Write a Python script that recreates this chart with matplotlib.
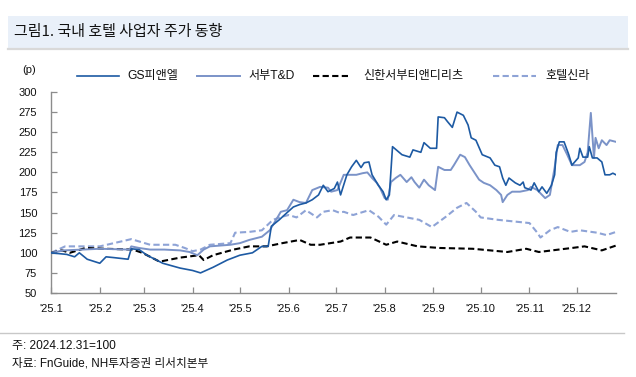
import matplotlib
matplotlib.use('Agg')
import matplotlib.pyplot as plt
from matplotlib.lines import Line2D
from matplotlib.patches import Rectangle

plt.rcParams['font.family'] = ['Liberation Sans', 'Noto Sans CJK KR', 'DejaVu Sans']

# ---- data (day offset from 2025-01-01, index 2024.12.31=100) ----
gs_day = [0, 10, 15, 18, 23, 31, 35, 40, 49, 51, 56, 61, 71, 82, 90, 95, 103, 112, 120, 128,
          134, 138, 140, 145, 150, 154, 158, 162, 166, 170, 173, 176, 180, 182, 184, 188, 191,
          194, 197, 199, 202, 204, 208, 211, 213, 215, 217, 223, 228, 230, 235, 237, 241, 245,
          246, 250, 252, 255, 258, 262, 265, 267, 270, 274, 279, 282, 285, 287, 289, 291, 295,
          298, 300, 301, 305, 307, 310, 312, 315, 318, 320, 321, 323, 326, 329, 331, 335, 336,
          338, 341, 342, 344, 347, 350, 352, 355, 357, 359]
gs_val = [100, 98, 95, 100, 92, 87, 95, 94, 92, 105, 104, 97, 87, 81, 78, 75, 82, 91, 97, 100,
          108, 108, 133, 141, 150, 157, 160, 162, 166, 172, 184, 176, 180, 188, 172, 197, 207,
          215, 206, 212, 213, 197, 184, 176, 166, 172, 232, 222, 219, 228, 225, 237, 230, 230,
          269, 268, 263, 256, 275, 271, 259, 243, 240, 222, 218, 209, 207, 193, 184, 193, 187,
          184, 188, 181, 178, 187, 176, 182, 174, 184, 197, 225, 238, 238, 222, 209, 218, 230,
          219, 219, 232, 218, 218, 213, 197, 197, 199, 197]

sb_day = [0, 8, 20, 31, 50, 51, 56, 63, 72, 82, 88, 93, 97, 101, 114, 120, 126, 134, 139,
          143, 146, 150, 154, 158, 162, 166, 171, 176, 178, 182, 186, 190, 194, 198, 201, 204,
          207, 209, 212, 214, 216, 219, 222, 226, 229, 231, 234, 237, 240, 244, 246, 250, 254,
          256, 260, 263, 266, 270, 272, 275, 279, 283, 286, 287, 290, 293, 298, 303, 305, 309,
          312, 314, 317, 320, 322, 325, 328, 331, 336, 339, 341, 343, 345, 346, 348, 350, 353,
          355, 359]
sb_val = [100, 103, 104, 105, 104, 108, 106, 104, 104, 103, 101, 97, 104, 108, 110, 112, 116,
          120, 128, 141, 151, 153, 166, 163, 162, 178, 182, 181, 176, 178, 197, 197, 197, 199,
          200, 193, 187, 181, 168, 166, 188, 193, 197, 188, 194, 188, 181, 191, 184, 178, 207,
          203, 203, 209, 222, 219, 209, 197, 191, 187, 184, 178, 172, 163, 172, 176, 176, 178,
          182, 178, 172, 168, 172, 206, 234, 234, 222, 209, 209, 213, 225, 274, 218, 243, 230,
          240, 234, 240, 238]

reit_day = [0, 7, 12, 22, 35, 52, 58, 69, 82, 94, 97, 103, 116, 126, 137, 147, 158, 165, 171,
            184, 190, 203, 213, 220, 233, 247, 268, 290, 302, 310, 331, 339, 350, 359]
reit_val = [100, 103, 100, 106, 105, 104, 100, 89, 94, 97, 91, 97, 104, 108, 108, 112, 116,
            110, 110, 114, 119, 119, 110, 114, 108, 106, 105, 101, 105, 101, 106, 108, 103, 109]

shilla_day = [0, 9, 31, 51, 63, 79, 85, 90, 95, 101, 114, 117, 126, 134, 141, 147, 151, 156,
              162, 169, 173, 179, 183, 186, 192, 202, 208, 213, 218, 226, 234, 242, 251, 258,
              264, 270, 273, 284, 294, 304, 309, 311, 317, 322, 330, 336, 347, 353, 359]
shilla_val = [100, 108, 108, 117, 110, 110, 106, 102, 104, 110, 112, 125, 126, 128, 141, 145,
              147, 144, 153, 144, 151, 153, 150, 151, 147, 153, 145, 135, 147, 144, 141, 132,
              145, 156, 162, 151, 144, 141, 139, 137, 125, 119, 128, 132, 126, 128, 125, 122, 126]

series_names = ['GS피앤엘', '서부T&D', '신한서부티앤디리츠', '호텔신라']
month_pos = [0, 31, 59, 90, 120, 151, 181, 212, 243, 273, 304, 334]
month_labels = ["'25.1", "'25.2", "'25.3", "'25.4", "'25.5", "'25.6",
                "'25.7", "'25.8", "'25.9", "'25.10", "'25.11", "'25.12"]
y_ticks = [50, 75, 100, 125, 150, 175, 200, 225, 250, 275, 300]

# ---- figure ----
W, H = 636, 377
fig = plt.figure(figsize=(W / 100, H / 100), dpi=100)

def fx(px):
    return px / W

def fy(py):
    return 1 - py / H

# title band
fig.patches.append(Rectangle((fx(8), fy(48)), fx(620), 32 / H, transform=fig.transFigure,
                             facecolor='#E9F0F9', edgecolor='none', zorder=0))
fig.add_artist(Line2D([fx(8), fx(628)], [fy(49), fy(49)], color='#D9D9D9', lw=1.6))
fig.text(fx(14), fy(32), '그림1. 국내 호텔 사업자 주가 동향', fontsize=10.8,
         family=['Noto Sans CJK KR', 'DejaVu Sans'], va='center', ha='left', color='#111111')

ax = fig.add_axes([fx(51), fy(293), fx(616) - fx(51), (293 - 92) / H])

c_gs = '#1D5AA3'
c_sb = '#7B93C8'
c_sh = '#8EA3D6'
styles = [dict(color=c_gs, lw=1.2),
          dict(color=c_sb, lw=1.4),
          dict(color='#000000', lw=1.5, dashes=(3, 1.6)),
          dict(color=c_sh, lw=1.5, dashes=(3, 1.6))]
data = [(gs_day, gs_val), (sb_day, sb_val), (reit_day, reit_val), (shilla_day, shilla_val)]
zorders = [5, 4, 3, 2]
for (d, v), st, z in zip(data, styles, zorders):
    ax.plot(d, v, zorder=z, **st)

ax.set_xlim(0, 359)
ax.set_ylim(50, 300)
ax.set_xticks(month_pos)
ax.set_xticklabels(month_labels)
ax.set_yticks(y_ticks)
for s in ['top', 'right']:
    ax.spines[s].set_visible(False)
for s in ['left', 'bottom']:
    ax.spines[s].set_color('#8C8C8C')
    ax.spines[s].set_linewidth(1.0)
ax.tick_params(axis='x', direction='in', length=4, width=0.9, color='#8C8C8C',
               labelsize=8, pad=8, labelcolor='#111111')
ax.tick_params(axis='y', direction='in', length=4, width=0.9, color='#8C8C8C',
               labelsize=8, pad=10, labelcolor='#111111')
ax.set_facecolor('none')

# unit label
fig.text(fx(29), fy(70), '(p)', fontsize=8, ha='center', va='center', color='#111111')

# legend (keys placed along the top)
key_x = [(77, 119), (197, 240), (313, 351), (493, 536)]
text_x = [127, 248, 363, 545]
for (x0, x1), tx, st, name in zip(key_x, text_x, styles, series_names):
    fig.add_artist(Line2D([fx(x0), fx(x1)], [fy(76), fy(76)], **st))
    fig.text(fx(tx), fy(76), name, fontsize=8.7, ha='left', va='center', color='#111111')

# bottom separator and notes
fig.add_artist(Line2D([0, fx(624)], [fy(333), fy(333)], color='#C8C8C8', lw=1.0))
fig.text(fx(12), fy(346), '주: 2024.12.31=100', fontsize=8.6, ha='left', va='center', color='#111111')
fig.text(fx(12), fy(363), '자료: FnGuide, NH투자증권 리서치본부', fontsize=8.4, ha='left', va='center',
         color='#111111')

fig.savefig('out.png', dpi=100)
